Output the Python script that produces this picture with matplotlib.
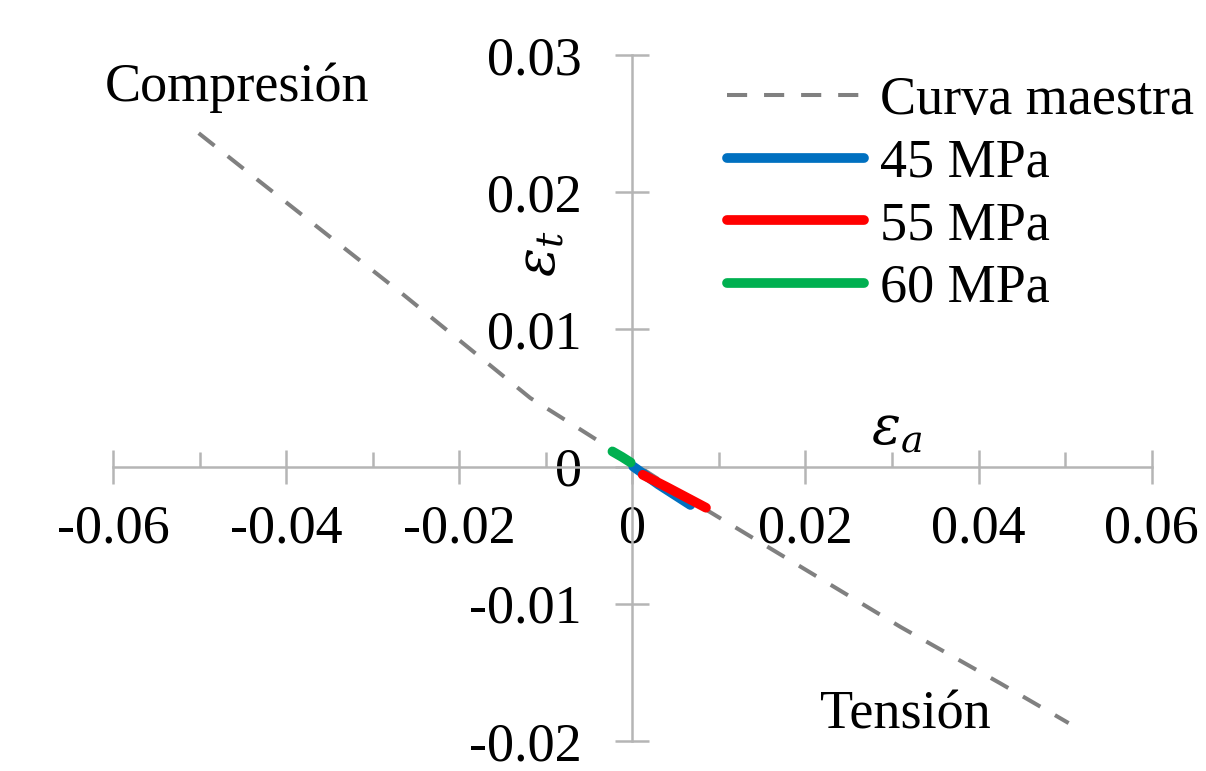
import matplotlib
matplotlib.use("Agg")
import matplotlib.pyplot as plt

plt.rcParams['font.family'] = ['Liberation Serif', 'DejaVu Serif']
plt.rcParams['axes.unicode_minus'] = False
plt.rcParams['mathtext.fontset'] = 'dejavuserif'

# curva maestra (deformacion axial vs transversal)
master_x = [-0.0501, -0.0433, -0.0264, -0.0118, -0.0060, 0.0, 0.0084, 0.0310, 0.0425, 0.0504]
master_y = [0.0243, 0.0209, 0.0125, 0.0050, 0.0027, 0.0003, -0.0031, -0.0117, -0.0158, -0.0187]

# ensayos
x45 = [0.0001, 0.0030, 0.0067]
y45 = [0.0000, -0.0013, -0.0028]
x55 = [0.0012, 0.0040, 0.0085]
y55 = [-0.0006, -0.0015, -0.0030]
x60 = [-0.0023, -0.0012, -0.0002]
y60 = [0.0011, 0.0007, 0.0003]

xticks = [-0.06, -0.04, -0.02, 0, 0.02, 0.04, 0.06]
xtick_labels = ['-0.06', '-0.04', '-0.02', '0', '0.02', '0.04', '0.06']
yticks = [-0.02, -0.01, 0, 0.01, 0.02, 0.03]
ytick_labels = ['-0.02', '-0.01', '0', '0.01', '0.02', '0.03']

fs = 39
axis_gray = '#b5b5b5'

fig = plt.figure(figsize=(12.06, 7.71), dpi=100)
ax = fig.add_axes([0.0937, 0.039, 0.8613, 0.8897])

ax.plot(master_x, master_y, color='#808080', lw=2.9, dashes=(5, 4.2),
        label='Curva maestra', zorder=2)
ax.plot(x45, y45, color='#0070C0', lw=7, solid_capstyle='round', label='45 MPa', zorder=3)
ax.plot(x55, y55, color='#FF0000', lw=7, solid_capstyle='round', label='55 MPa', zorder=4)
ax.plot(x60, y60, color='#00B050', lw=7, solid_capstyle='round', label='60 MPa', zorder=4)

ax.set_xlim(-0.06, 0.06)
ax.set_ylim(-0.02, 0.03)

for s in ['top', 'right']:
    ax.spines[s].set_visible(False)
for s in ['left', 'bottom']:
    ax.spines[s].set_position(('data', 0))
    ax.spines[s].set_color(axis_gray)
    ax.spines[s].set_linewidth(1.8)

ax.set_xticks(xticks)
ax.set_xticklabels(xtick_labels)
ax.set_xticks([-0.05, -0.03, -0.01, 0.01, 0.03, 0.05], minor=True)
ax.set_yticks(yticks)
ax.set_yticklabels(ytick_labels)

ax.tick_params(axis='x', which='major', direction='inout', length=24.5, width=1.8,
               color=axis_gray, labelsize=fs, pad=15)
ax.tick_params(axis='x', which='minor', direction='in', length=10.5, width=1.8,
               color=axis_gray)
ax.tick_params(axis='y', which='major', direction='inout', length=24.5, width=1.8,
               color=axis_gray, labelsize=fs, pad=24)

ax.text(0.0305, 0.0026, r'$\varepsilon_a$', fontsize=fs, ha='center', va='center')
ax.text(-0.0105, 0.0155, r'$\varepsilon_t$', fontsize=fs, ha='center', va='center',
        rotation=90)

ax.text(-0.0610, 0.0276, 'Compresión', fontsize=fs, ha='left', va='center', clip_on=False)
ax.text(0.0217, -0.0181, 'Tensión', fontsize=fs, ha='left', va='center', clip_on=False)

ax.legend(loc='upper left', bbox_to_anchor=(0.555, 1.025), frameon=False, fontsize=fs,
          handlelength=2.52, handletextpad=0.3, labelspacing=0.22, borderpad=0.2)

fig.savefig('out.png', dpi=100)
